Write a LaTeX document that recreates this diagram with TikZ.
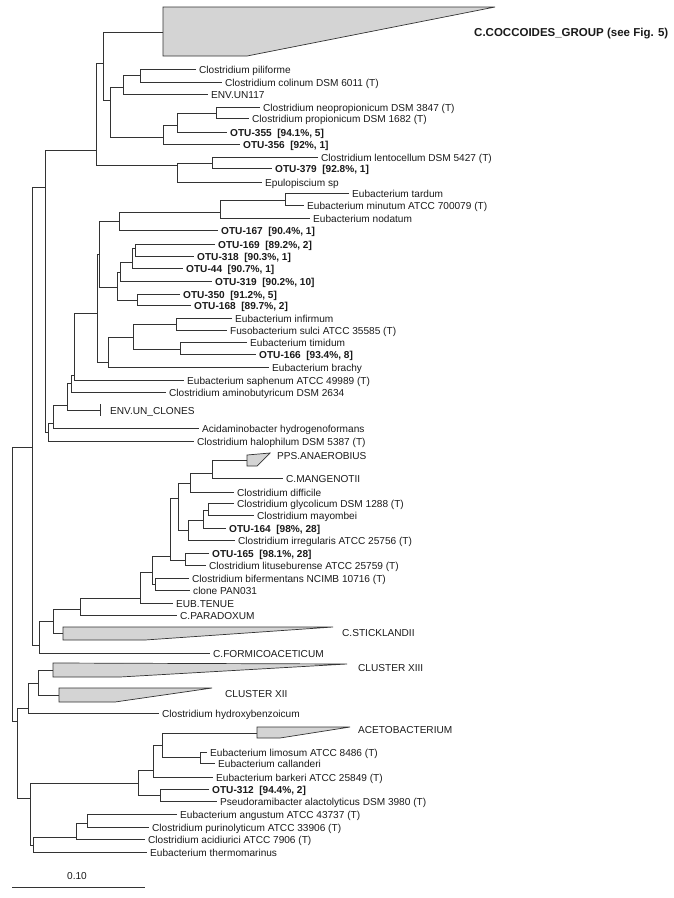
\documentclass[tikz,border=0pt]{standalone}
\usepackage{fontspec}
\setmainfont{Liberation Sans}
\definecolor{ln}{HTML}{333333}
\definecolor{tf}{HTML}{D4D4D4}
\definecolor{tx}{HTML}{1A1A1A}
\begin{document}
\begin{tikzpicture}[x=1pt,y=-1pt,
 br/.style={draw=ln,line width=0.8pt},
 tri/.style={draw=ln,fill=tf,line width=0.7pt,line join=miter},
 lab/.style={anchor=west,inner xsep=3pt,inner ysep=0pt,text height=8.5pt,text depth=0pt,font=\fontsize{10.1}{12}\selectfont,text=tx},
 blab/.style={lab,font=\fontsize{10.1}{12}\selectfont\bfseries}]
\useasboundingbox (0,0) rectangle (673,898);

% internal nodes
\foreach \n/\x/\y in {r/12/584,a32/32/447,b17/17/721,a45/45/187,a39/39/645,a96/96/150,a48/48/432,
 a103/103/63,e177/177/165,tcocc/163/32,a110/110/100,a123/123/87,a163/163/137,a140/140/75,
 a177/177/125,a216/216/113,a212/212/163,a53/53/423,a67/67/405,envc/100/410,a71/71/383,a74/74/375,
 a97/97/313,a99/99/254,a108/108/362,a119/119/221,a117/117/287,a220/220/212,a285/285/200,
 b120/120/272,a137/137/300,a132/132/262,a135/135/248,a133/133/337,a176/176/324,a180/180/349,
 c53/53/621,a80/80/609,tstick/63/633,a140x/140/598,a152/152/572,a155/155/584,a170/170/556,
 a178/178/498,a185/185/560,a190/190/483,a188/188/530,b212/212/473,tpps/247/460,a203/203/520,
 a208/208/510,a28/28/708,a30/30/798,a38/38/683,tc13/53/670,tc12/59/695,a138/138/783,
 a160/160/795,a153/153/770,a162/162/745,taceto/257/733,a200/200/757,a33/33/845,a76/76/837,a87/87/823}
 {\coordinate (\n) at (\x,\y);}

% collapsed groups
\draw[tri] (163,7) -- (495,7) -- (247,56) -- (163,56) -- cycle;
\draw[tri] (247,455) -- (270,453) -- (257,466) -- (247,466) -- cycle;
\draw[tri] (63,627) -- (333,627) -- (145,640) -- (63,640) -- cycle;
\draw[tri] (53,663) -- (347,664) -- (120,677) -- (53,677) -- cycle;
\draw[tri] (59,688) -- (212,688) -- (115,702) -- (59,702) -- cycle;
\draw[tri] (257,727) -- (350,727) -- (280,738) -- (257,738) -- cycle;

% leaf labels (regular)
\foreach \n/\x/\y/\t in {
 lpil/199/69/{Clostridium piliforme},
 lcol/225/82/{Clostridium colinum DSM 6011 (T)},
 lenv117/211/94/{ENV.UN117},
 lneo/263/107/{Clostridium neopropionicum DSM 3847 (T)},
 lprop/252/118/{Clostridium propionicum DSM 1682 (T)},
 llento/321/157/{Clostridium lentocellum DSM 5427 (T)},
 lepu/265/182/{Epulopiscium sp},
 ltard/352/193/{Eubacterium tardum},
 lminu/307/205/{Eubacterium minutum ATCC 700079 (T)},
 lnod/313/218/{Eubacterium nodatum},
 linf/235/318/{Eubacterium infirmum},
 lsulci/230/330/{Fusobacterium sulci ATCC 35585 (T)},
 ltim/250/342/{Eubacterium timidum},
 lbrachy/272/367/{Eubacterium brachy},
 lsaph/187/380/{Eubacterium saphenum ATCC 49989 (T)},
 lamino/169/392/{Clostridium aminobutyricum DSM 2634},
 lenvc/110/410/{ENV.UN\_CLONES},
 lacid/202/428/{Acidaminobacter hydrogenoformans},
 lhalo/197/441/{Clostridium halophilum DSM 5387 (T)},
 lpps/277/455/{PPS.ANAEROBIUS},
 lmang/286/478/{C.MANGENOTII},
 ldiff/237/492/{Clostridium difficile},
 lglyc/237/503/{Clostridium glycolicum DSM 1288 (T)},
 lmayo/257/515/{Clostridium mayombei},
 lirreg/238/540/{Clostridium irregularis ATCC 25756 (T)},
 llitu/209/565/{Clostridium lituseburense ATCC 25759 (T)},
 lbif/192/578/{Clostridium bifermentans NCIMB 10716 (T)},
 lpan/193/590/{clone PAN031},
 ltenue/176/603/{EUB.TENUE},
 lparad/180/615/{C.PARADOXUM},
 lstick/342/632/{C.STICKLANDII},
 lformi/213/653/{C.FORMICOACETICUM},
 lc13/358/667/{CLUSTER XIII},
 lc12/225/693/{CLUSTER XII},
 lhydro/162/713/{Clostridium hydroxybenzoicum},
 laceto/358/729/{ACETOBACTERIUM},
 llimo/210/752/{Eubacterium limosum ATCC 8486 (T)},
 lcall/218/763/{Eubacterium callanderi},
 lbark/216/777/{Eubacterium barkeri ATCC 25849 (T)},
 lpseudo/220/801/{Pseudoramibacter alactolyticus DSM 3980 (T)},
 lang/180/814/{Eubacterium angustum ATCC 43737 (T)},
 lpurino/152/827/{Clostridium purinolyticum ATCC 33906 (T)},
 lacidi/148/839/{Clostridium acidiurici ATCC 7906 (T)},
 ltherm/150/852/{Eubacterium thermomarinus}}
 {\node[lab] (\n) at (\x-3,\y) {\t};}

% leaf labels (bold)
\foreach \n/\x/\y/\t in {
 lotu355/230/132/{OTU-355\ \ [94.1\%, 5]},
 lotu356/243/144/{OTU-356\ \ [92\%, 1]},
 lotu379/275/168/{OTU-379\ \ [92.8\%, 1]},
 lotu167/221/230/{OTU-167\ \ [90.4\%, 1]},
 lotu169/218/244/{OTU-169\ \ [89.2\%, 2]},
 lotu318/197/256/{OTU-318\ \ [90.3\%, 1]},
 lotu44/186/268/{OTU-44\ \ [90.7\%, 1]},
 lotu319/215/281/{OTU-319\ \ [90.2\%, 10]},
 lotu350/183/294/{OTU-350\ \ [91.2\%, 5]},
 lotu168/194/305/{OTU-168\ \ [89.7\%, 2]},
 lotu166/259/354/{OTU-166\ \ [93.4\%, 8]},
 lotu164/229/528/{OTU-164\ \ [98\%, 28]},
 lotu165/212/553/{OTU-165\ \ [98.1\%, 28]},
 lotu312/212/789/{OTU-312\ \ [94.4\%, 2]}}
 {\node[blab] (\n) at (\x-3,\y) {\t};}

\node[lab,font=\fontsize{11.5}{13}\selectfont\bfseries] (lcocc) at (471,32) {C.COCCOIDES\_GROUP (see Fig. 5)};

% branches: parent / first child / second child
\foreach \p/\c/\d in {
 r/a32/b17, a32/a45/a39, a45/a96/a48, a96/a103/e177, a103/tcocc/a110,
 a110/a123/a163, a123/a140/lenv117, a140/lpil/lcol, a163/a177/lotu356,
 a177/a216/lotu355, a216/lneo/lprop, e177/a212/lepu, a212/llento/lotu379,
 a48/a53/lhalo, a53/a67/lacid, a67/a71/envc, a71/a74/lamino, a74/a97/lsaph,
 a97/a99/a108, a99/a119/a117, a119/a220/lotu167, a220/a285/lnod,
 a285/ltard/lminu, a117/b120/a137, b120/a132/lotu319, a132/a135/lotu44,
 a135/lotu169/lotu318, a137/lotu350/lotu168, a108/a133/lbrachy,
 a133/a176/a180, a176/linf/lsulci, a180/ltim/lotu166,
 a39/c53/lformi, c53/a80/tstick, a80/a140x/lparad, a140x/a152/ltenue,
 a152/a170/a155, a155/lbif/lpan, a170/a178/a185, a178/a190/a188,
 a190/b212/ldiff, b212/tpps/lmang, a188/a203/lirreg, a203/a208/lotu164,
 a208/lglyc/lmayo, a185/lotu165/llitu,
 b17/a28/a30, a28/a38/lhydro, a38/tc13/tc12, a30/a138/a33,
 a138/a153/a160, a153/a162/lbark, a162/taceto/a200, a200/llimo/lcall,
 a160/lotu312/lpseudo, a33/a76/ltherm, a76/a87/lacidi, a87/lang/lpurino}
 {\draw[br] (\c) -- (\c -| \p) -- (\d -| \p) -- (\d);}

% collapsed zero-width group tick
\draw[br] (envc) ++(0,-6) -- ++(0,12);

% scale bar
\coordinate (sb1) at (12,887);
\coordinate (sb2) at (145,887);
\draw[br] (sb1) -- (sb2);
\node[font=\fontsize{10.1}{12}\selectfont,text=tx] (sbl) at (77,876) {0.10};
\end{tikzpicture}
\end{document}
